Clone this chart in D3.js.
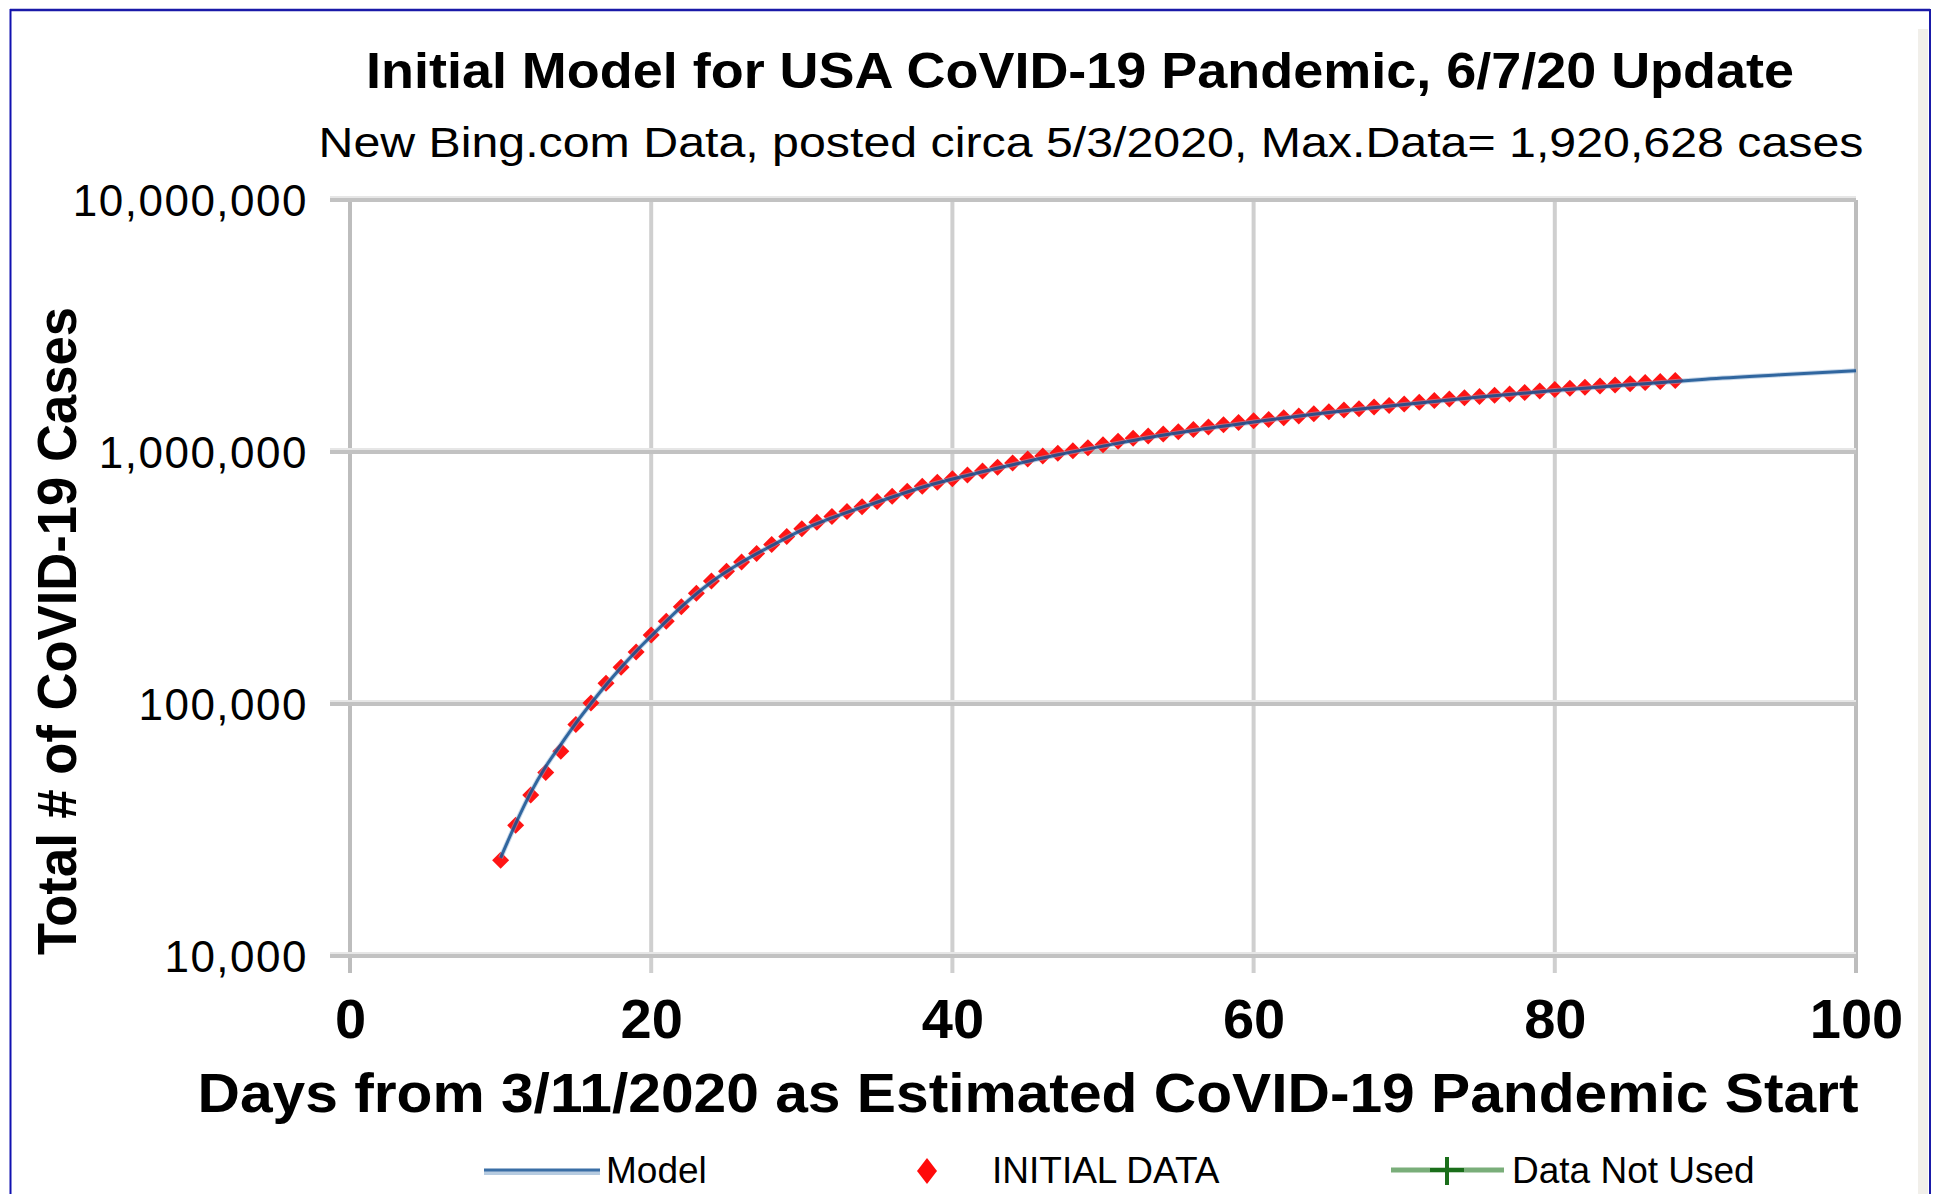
<!DOCTYPE html>
<html><head><meta charset="utf-8">
<script src="https://cdn.jsdelivr.net/npm/d3@7"></script>
<style>html,body{margin:0;padding:0;background:#fff;}svg{display:block;}</style>
</head><body>
<svg id="chart" width="1939" height="1194"></svg>
<script>
const titleText = "Initial Model for USA CoVID-19 Pandemic, 6/7/20 Update";
const subtitleText = "New Bing.com Data, posted circa 5/3/2020, Max.Data= 1,920,628 cases";
const xTitle = "Days from 3/11/2020 as Estimated CoVID-19 Pandemic Start";
const yTitle = "Total # of CoVID-19 Cases";
const xTicks = [0, 20, 40, 60, 80, 100];
const yTicks = [10000, 100000, 1000000, 10000000];
const legendLabels = ["Model", "INITIAL DATA", "Data Not Used"];

// INITIAL DATA: days 10..88 from 3/11/2020
const dataDays = d3.range(10, 89);
const dataCases = [
  24000, 33000, 43500, 53500, 65000, 83000, 101000, 121000, 140000, 161000,
  188000, 213000, 243000, 275000, 308000, 336000, 366000, 396000, 429000, 462000,
  496000, 526000, 555000, 580000, 607000, 636000, 667000, 699000, 732000, 759000,
  784000, 811000, 840000, 869000, 905000, 938000, 965000, 988000, 1012000, 1039000,
  1069000, 1103000, 1133000, 1158000, 1180000, 1204000, 1229000, 1257000, 1283000, 1309000,
  1329000, 1347000, 1369000, 1390000, 1417000, 1443000, 1467000, 1486000, 1508000, 1528000,
  1551000, 1577000, 1601000, 1622000, 1643000, 1662000, 1681000, 1699000, 1721000, 1747000,
  1771000, 1790000, 1806000, 1826000, 1846000, 1866000, 1885000, 1903000, 1920628
];
// Model curve
const modelDays = [10, 11, 12, 13, 14, 15, 16, 17, 18, 19, 20, 22, 24, 26, 28, 30, 32, 35, 38, 41, 44, 47, 50, 53, 56, 60, 65, 70, 75, 80, 85, 88, 90, 95, 100];
const modelCases = [24500, 33500, 44500, 56500, 69000, 84000, 100500, 119000, 139500, 162000, 186000, 243000, 305000, 365000, 425000, 490000, 548000, 632000, 725000, 808000, 890000, 975000, 1055000, 1140000, 1218000, 1315000, 1435000, 1545000, 1652000, 1755000, 1850000, 1905000, 1945000, 2025000, 2100000];
// Data Not Used (none plotted)
const unusedDays = [];
const unusedCases = [];

const svg = d3.select("#chart");
const L = 350, R = 1856, T = 200, B = 956;
const x = d3.scaleLinear().domain([0, 100]).range([L, R]);
const y = d3.scaleLog().domain([10000, 10000000]).range([B, T]);
const font = "'Liberation Sans', Arial, Helvetica, sans-serif";

// frame border
svg.append("rect").attr("x", 1918).attr("y", 29).attr("width", 10).attr("height", 1165).attr("fill", "#f1efea");
svg.append("line").attr("x1", 10).attr("x2", 1930).attr("y1", 10).attr("y2", 10).attr("stroke", "#1a1aa8").attr("stroke-width", 2.5);
svg.append("line").attr("x1", 10.5).attr("x2", 10.5).attr("y1", 9).attr("y2", 1194).attr("stroke", "#1010b0").attr("stroke-width", 2);
svg.append("line").attr("x1", 1930).attr("x2", 1930).attr("y1", 9).attr("y2", 1194).attr("stroke", "#1a1aa8").attr("stroke-width", 2);

// grid
const grid = svg.append("g");
grid.selectAll("line.v").data(xTicks).join("line")
  .attr("x1", d => x(d)).attr("x2", d => x(d)).attr("y1", T).attr("y2", B + 17)
  .attr("stroke", d => d === 0 || d === 100 ? "#bdbdbd" : "#cfcfcf").attr("stroke-width", 4);
grid.selectAll("line.h").data(yTicks).join("line")
  .attr("x1", L - 20).attr("x2", R).attr("y1", d => y(d)).attr("y2", d => y(d))
  .attr("stroke", "#c2c2c2").attr("stroke-width", 4);
grid.selectAll("line.hl").data(yTicks).join("line")
  .attr("x1", L - 20).attr("x2", R).attr("y1", d => y(d) - 3).attr("y2", d => y(d) - 3)
  .attr("stroke", "#e6e6e6").attr("stroke-width", 2);

// axes (tick labels via d3 axes)
const yAxis = d3.axisLeft(y).tickValues(yTicks).tickFormat(d3.format(",")).tickSize(0).tickPadding(42);
const gy = svg.append("g").attr("transform", `translate(${L},0)`).call(yAxis);
gy.select(".domain").remove();
gy.selectAll("text").attr("font-family", font).attr("font-size", 44).attr("fill", "#000").attr("dy", "0.36em")
  .attr("letter-spacing", 1.5);

const xAxis = d3.axisBottom(x).tickValues(xTicks).tickFormat(d3.format("d")).tickSize(0).tickPadding(0);
const gx = svg.append("g").attr("transform", `translate(0,${B})`).call(xAxis);
gx.select(".domain").remove();
gx.selectAll("text").attr("font-family", font).attr("font-size", 56).attr("font-weight", "bold").attr("fill", "#000").attr("dy", null).attr("y", 82);

// data points (squarish diamonds)
const diamond = (w, h) => `M0,${-h}L${w},0L0,${h}L${-w},0Z`;
const pts = dataDays.map((d, i) => [d, dataCases[i]]);
svg.append("g").selectAll("path").data(pts).join("path")
  .attr("transform", d => `translate(${x(d[0])},${y(d[1])})`)
  .attr("d", diamond(8.5, 8.5))
  .attr("fill", "#ff1414");

// unused data (empty)
svg.append("g").selectAll("path").data(unusedDays.map((d, i) => [d, unusedCases[i]])).join("path")
  .attr("transform", d => `translate(${x(d[0])},${y(d[1])})`)
  .attr("d", d3.symbol(d3.symbolCross, 120)).attr("fill", "#1a7a1a");

// model line
const mdl = modelDays.map((d, i) => [d, modelCases[i]]);
const line = d3.line().x(d => x(d[0])).y(d => y(d[1])).curve(d3.curveMonotoneX);
svg.append("path").datum(mdl).attr("d", line).attr("fill", "none")
  .attr("stroke", "#8fb0d3").attr("stroke-width", 5).attr("opacity", 0.5);
svg.append("path").datum(mdl).attr("d", line).attr("fill", "none")
  .attr("stroke", "#0a4a8c").attr("stroke-width", 3).attr("opacity", 0.8);

// titles
svg.append("text").attr("x", 1080).attr("y", 88).attr("text-anchor", "middle")
  .attr("font-family", font).attr("font-weight", "bold").attr("font-size", 50)
  .attr("textLength", 1428).attr("lengthAdjust", "spacingAndGlyphs").text(titleText);
svg.append("text").attr("x", 1091).attr("y", 157).attr("text-anchor", "middle")
  .attr("font-family", font).attr("font-size", 42)
  .attr("textLength", 1545).attr("lengthAdjust", "spacingAndGlyphs").text(subtitleText);
svg.append("text").attr("x", 1028).attr("y", 1112).attr("text-anchor", "middle")
  .attr("font-family", font).attr("font-weight", "bold").attr("font-size", 56)
  .attr("textLength", 1661).attr("lengthAdjust", "spacingAndGlyphs").text(xTitle);
svg.append("text").attr("transform", "translate(76,631) rotate(-90)").attr("text-anchor", "middle")
  .attr("font-family", font).attr("font-weight", "bold").attr("font-size", 56)
  .attr("textLength", 648).attr("lengthAdjust", "spacingAndGlyphs").text(yTitle);

// legend
const lg = svg.append("g").attr("font-family", font).attr("font-size", 37);
lg.append("line").attr("x1", 484).attr("x2", 600).attr("y1", 1172).attr("y2", 1172).attr("stroke", "#b6cbe0").attr("stroke-width", 6);
lg.append("line").attr("x1", 484).attr("x2", 600).attr("y1", 1170).attr("y2", 1170).attr("stroke", "#3a6ea5").attr("stroke-width", 3);
lg.append("text").attr("x", 606).attr("y", 1183).text(legendLabels[0]);
lg.append("path").attr("transform", "translate(927,1171)").attr("d", diamond(10, 13)).attr("fill", "#ff0a0a");
lg.append("text").attr("x", 992).attr("y", 1183).text(legendLabels[1]);
lg.append("line").attr("x1", 1391).attr("x2", 1504).attr("y1", 1170).attr("y2", 1170).attr("stroke", "#5a9a5a").attr("stroke-width", 5).attr("opacity", 0.8);
lg.append("line").attr("x1", 1447).attr("x2", 1447).attr("y1", 1157).attr("y2", 1185).attr("stroke", "#1a6e1a").attr("stroke-width", 4);
lg.append("line").attr("x1", 1430).attr("x2", 1464).attr("y1", 1170).attr("y2", 1170).attr("stroke", "#1a6e1a").attr("stroke-width", 4);
lg.append("text").attr("x", 1512).attr("y", 1183).text(legendLabels[2]);
</script>
</body></html>
